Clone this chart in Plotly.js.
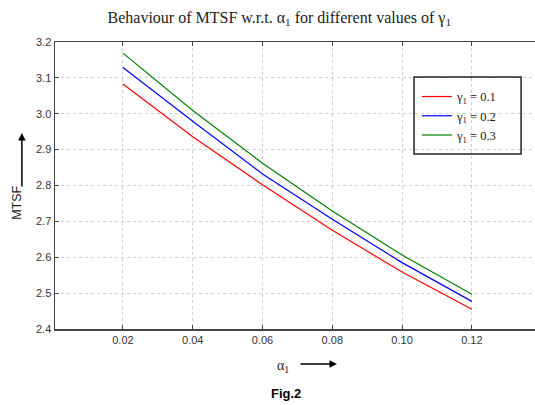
<!DOCTYPE html>
<html>
<head>
<meta charset="utf-8">
<script src="https://cdn.plot.ly/plotly-3.0.1.min.js"></script>
<style>html,body{margin:0;padding:0;background:#fff}#chart{width:535px;height:405px}</style>
</head>
<body>
<div id="chart"></div>
<script>
var alpha1 = [0.02, 0.04, 0.06, 0.08, 0.10, 0.12];
var mtsfG01 = [3.083, 2.936, 2.802, 2.675, 2.559, 2.455];
var mtsfG02 = [3.129, 2.979, 2.832, 2.706, 2.585, 2.477];
var mtsfG03 = [3.169, 3.009, 2.862, 2.729, 2.606, 2.497];
var seriesNames = ['γ<sub>1</sub> = 0.1', 'γ<sub>1</sub> = 0.2', 'γ<sub>1</sub> = 0.3'];
var seriesColors = ['#ff0000', '#0000ff', '#008000'];
var xTicks = [0.02, 0.04, 0.06, 0.08, 0.10, 0.12];
var yTicks = [2.4, 2.5, 2.6, 2.7, 2.8, 2.9, 3.0, 3.1, 3.2];

var ys = [mtsfG01, mtsfG02, mtsfG03];
var traces = ys.map(function (y, i) {
  return {x: alpha1, y: y, type: 'scatter', mode: 'lines', name: seriesNames[i],
          line: {color: seriesColors[i], width: 1.2}};
});

var tickFont = {family: 'Liberation Sans, Arial, sans-serif', size: 11, color: '#333'};
var layout = {
  width: 535, height: 405,
  margin: {l: 55, r: 0, t: 42, b: 76},
  paper_bgcolor: '#fff', plot_bgcolor: '#fff',
  showlegend: true,
  title: {text: 'Behaviour of MTSF w.r.t. α<sub>1</sub> for different values of γ<sub>1</sub>',
          font: {family: 'Liberation Serif, Times New Roman, serif', size: 16, color: '#222'},
          xref: 'container', x: 0.522, xanchor: 'center', yref: 'container', y: 0.958, yanchor: 'middle'},
  xaxis: {range: [0.00052, 0.1381], tickvals: xTicks, ticktext: xTicks.map(function(v){return v.toFixed(2);}),
          ticks: 'inside', ticklen: 4, tickcolor: '#444', showline: true, linecolor: '#444', linewidth: 1.5,
          mirror: 'ticks', showgrid: true, gridcolor: '#cfcfcf', griddash: 'dot', gridwidth: 1,
          zeroline: false, tickfont: tickFont},
  yaxis: {range: [2.4, 3.2], tickvals: yTicks, ticktext: yTicks.map(function(v){return v.toFixed(1);}),
          ticks: 'inside', ticklen: 4, tickcolor: '#444', showline: true, linecolor: '#444', linewidth: 1.5,
          mirror: false, showgrid: true, gridcolor: '#cfcfcf', griddash: 'dot', gridwidth: 1,
          zeroline: false, tickfont: tickFont},
  legend: {x: 0.754, y: 0.861, xanchor: 'left', yanchor: 'top', bgcolor: 'rgba(0,0,0,0)',
           borderwidth: 0,
           font: {family: 'Liberation Serif, Times New Roman, serif', size: 12.5, color: '#222'},
           tracegroupgap: 0},
  shapes: [
    {type: 'rect', xref: 'paper', yref: 'paper', x0: 0.748, x1: 0.971, y0: 0.610, y1: 0.878,
     line: {color: '#222', width: 1.5}, fillcolor: 'rgba(0,0,0,0)', layer: 'above'}
  ],
  annotations: [
    {text: 'α<sub>1</sub>', xref: 'paper', yref: 'paper', x: 0.475, y: -0.129, xanchor: 'center', yanchor: 'middle',
     showarrow: false, font: {family: 'Liberation Serif, serif', size: 14, color: '#222'}},
    {text: '', xref: 'paper', yref: 'paper', x: 0.5875, y: -0.122, ax: -38, ay: 0, showarrow: true,
     arrowhead: 2, arrowsize: 1, arrowwidth: 1.5, arrowcolor: '#000'},
    {text: '<b>Fig.2</b>', xref: 'paper', yref: 'paper', x: 0.481, y: -0.226, xanchor: 'center', yanchor: 'middle',
     showarrow: false, font: {family: 'Liberation Sans, Arial, sans-serif', size: 13, color: '#000'}},
    {text: 'MTSF', xref: 'paper', yref: 'paper', x: -0.079, y: 0.44, xanchor: 'center', yanchor: 'middle',
     showarrow: false, textangle: -90,
     font: {family: 'Liberation Sans, Arial, sans-serif', size: 12.5, color: '#222'}},
    {text: '', xref: 'paper', yref: 'paper', x: -0.069, y: 0.683, ax: 0, ay: 55, showarrow: true,
     arrowhead: 2, arrowsize: 1, arrowwidth: 1.5, arrowcolor: '#000'}
  ]
};
Plotly.newPlot('chart', traces, layout, {displayModeBar: false, staticPlot: true});
</script>
</body>
</html>
